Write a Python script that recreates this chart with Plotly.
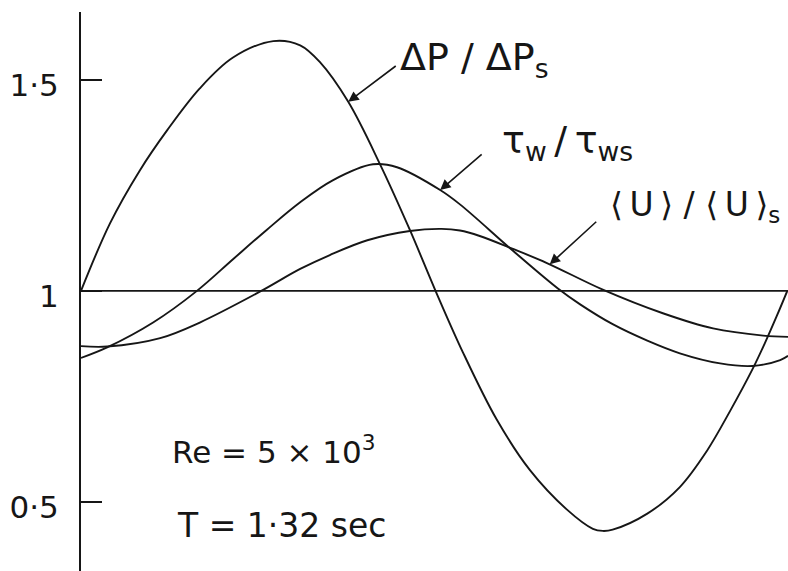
import numpy as np
import plotly.graph_objects as go

# Phase within one oscillation period (t/T) and normalised quantities
t_dp = [0.0, 0.041, 0.083, 0.122, 0.168, 0.215, 0.272, 0.310, 0.338, 0.378,
        0.423, 0.465, 0.501, 0.540, 0.588, 0.635, 0.687, 0.724, 0.738, 0.752,
        0.801, 0.847, 0.885, 0.918, 0.950, 0.967, 0.984, 0.999]
dp_ratio = [1.000, 1.160, 1.285, 1.381, 1.480, 1.553, 1.592, 1.582, 1.542, 1.448,
            1.300, 1.145, 1.002, 0.855, 0.695, 0.575, 0.482, 0.436, 0.431, 0.434,
            0.472, 0.535, 0.620, 0.715, 0.815, 0.875, 0.940, 1.000]

t_tau = [0.0, 0.037, 0.102, 0.164, 0.215, 0.263, 0.310, 0.356, 0.413, 0.447,
         0.508, 0.536, 0.611, 0.675, 0.706, 0.752, 0.801, 0.847, 0.904, 0.950,
         0.989, 1.0]
tau_ratio = [0.841, 0.866, 0.925, 1.000, 1.075, 1.145, 1.210, 1.262, 1.300, 1.293,
             1.239, 1.205, 1.095, 1.005, 0.968, 0.921, 0.882, 0.852, 0.828, 0.822,
             0.836, 0.846]

t_u = [0.0, 0.037, 0.112, 0.168, 0.253, 0.310, 0.352, 0.405, 0.465, 0.510,
       0.536, 0.564, 0.610, 0.659, 0.738, 0.823, 0.894, 0.965, 1.0]
u_ratio = [0.869, 0.868, 0.888, 0.925, 0.998, 1.052, 1.085, 1.120, 1.142, 1.147,
           1.143, 1.130, 1.100, 1.066, 1.003, 0.947, 0.911, 0.894, 0.891]

y_tickvals = [0.5, 1.0, 1.5]
y_ticktext = ["0·5", "1", "1·5"]

INK = "#161616"
FONT = "DejaVu Sans"
TS = "\u2009"  # thin space for the wide lettering of the curve labels

fig = go.Figure()
for tx, ty in [(t_dp, dp_ratio), (t_tau, tau_ratio), (t_u, u_ratio)]:
    fig.add_trace(go.Scatter(x=tx, y=ty, mode="lines",
                             line=dict(color=INK, width=1.9, shape="spline", smoothing=1.0),
                             showlegend=False, hoverinfo="skip"))

# steady-flow reference level
fig.add_hline(y=1.0, line=dict(color=INK, width=1.9))

# labels with leader arrows pointing onto each curve
labels = [
    ("ΔP / ΔP<sub>s</sub>", t_dp, dp_ratio, 0.378, 49, -37),
    (f"τ<sub>w</sub>{TS}/{TS}τ<sub>ws</sub>", t_tau, tau_ratio, 0.508, 43, -37),
    (f"⟨{TS}U{TS}⟩ / ⟨{TS}U{TS}⟩<sub>s</sub>", t_u, u_ratio, 0.663, 48, -44),
]
for text, tx, ty, t_tip, ax, ay in labels:
    y_tip = float(np.interp(t_tip, tx, ty))
    fig.add_annotation(x=t_tip, y=y_tip, ax=ax, ay=ay, text="", showarrow=True,
                       arrowhead=2, arrowsize=1.3, arrowwidth=1.6, arrowcolor=INK,
                       standoff=0)

fig.add_annotation(x=0.448, y=1.548, text=labels[0][0], showarrow=False,
                   xanchor="left", yanchor="middle", font=dict(size=38, family=FONT, color=INK))
fig.add_annotation(x=0.592, y=1.352, text=labels[1][0], showarrow=False,
                   xanchor="left", yanchor="middle", font=dict(size=38, family=FONT, color=INK))
fig.add_annotation(x=0.745, y=1.200, text=labels[2][0], showarrow=False,
                   xanchor="left", yanchor="middle", font=dict(size=33, family=FONT, color=INK))

fig.add_annotation(x=0.126, y=0.623, text="Re = 5 × 10<sup>3</sup>", showarrow=False,
                   xanchor="left", yanchor="middle", font=dict(size=31, family=FONT, color=INK))
fig.add_annotation(x=0.133, y=0.445, text="T = 1·32 sec", showarrow=False,
                   xanchor="left", yanchor="middle", font=dict(size=33, family=FONT, color=INK))

fig.update_xaxes(visible=False, range=[0, 1.0])
fig.update_yaxes(range=[0.336, 1.661], showgrid=False, zeroline=False,
                 showline=True, linecolor=INK, linewidth=2,
                 ticks="inside", ticklen=21, tickwidth=1.6, tickcolor=INK,
                 tickvals=y_tickvals, ticktext=y_ticktext,
                 ticklabelstandoff=14, ticklabelshift=5,
                 tickfont=dict(size=31, family=FONT, color=INK))

fig.update_layout(width=788, height=571, margin=dict(l=81, r=0, t=12, b=0),
                  paper_bgcolor="white", plot_bgcolor="white")

fig.write_html("out.html")
